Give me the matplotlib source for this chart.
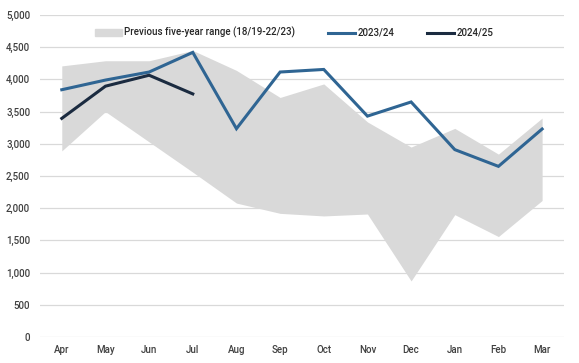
import numpy as np
import matplotlib
matplotlib.use('Agg')
import matplotlib.pyplot as plt
from matplotlib.patches import Patch
from matplotlib.lines import Line2D

plt.rcParams['font.family'] = ['Roboto', 'DejaVu Sans']

months = ['Apr', 'May', 'Jun', 'Jul', 'Aug', 'Sep', 'Oct', 'Nov', 'Dec', 'Jan', 'Feb', 'Mar']
range_upper = [4210, 4290, 4290, 4450, 4140, 3720, 3930, 3340, 2950, 3240, 2840, 3400]
range_lower = [2890, 3500, 3030, 2560, 2080, 1920, 1880, 1910, 870, 1900, 1560, 2120]
y2023 = [3840, 3990, 4115, 4420, 3235, 4115, 4155, 3430, 3650, 2910, 2650, 3230]
y2024 = [3395, 3895, 4065, 3775]

c_fill = '#d9d9d9'
c_2023 = '#2f6593'
c_2024 = '#1b2b40'
c_text = '#404040'

fig = plt.figure(figsize=(5.79, 3.63), dpi=100)
ax = fig.add_axes([0.069, 0.0716, 0.905, 0.887])

x = np.arange(len(months))
ax.fill_between(x, range_lower, range_upper, color=c_fill, linewidth=0, zorder=2)
ax.plot(x, y2023, color=c_2023, lw=2.2, zorder=3, solid_joinstyle='miter')
ax.plot(x[:len(y2024)], y2024, color=c_2024, lw=2.2, zorder=4, solid_joinstyle='miter')

ax.set_xlim(-0.5, len(months) - 0.5)
ax.set_ylim(0, 5000)
ax.set_yticks(np.arange(0, 5001, 500))
ax.set_yticklabels([f'{v:,}' for v in range(0, 5001, 500)])
ax.set_xticks(x)
ax.set_xticklabels(months)
ax.grid(axis='y', color='#d9d9d9', lw=0.9, zorder=1)
ax.set_axisbelow(True)
for s in ax.spines.values():
    s.set_visible(False)
ax.tick_params(axis='x', length=0, labelsize=7, labelcolor=c_text, pad=6)
ax.tick_params(axis='y', length=0, labelsize=7, labelcolor=c_text, pad=7)
for lab in ax.get_xticklabels() + ax.get_yticklabels():
    lab.set_fontweight('medium')

handles = [Patch(color=c_fill, label='Previous five-year range (18/19-22/23)'),
           Line2D([], [], color=c_2023, lw=2.2, label='2023/24'),
           Line2D([], [], color=c_2024, lw=2.2, label='2024/25')]
leg = ax.legend(handles=handles, ncol=3, frameon=False, loc='center',
                bbox_to_anchor=(0.485, 0.945), fontsize=7, columnspacing=3.4,
                handlelength=2.8, handletextpad=0.2, handleheight=0.6)
for t in leg.get_texts():
    t.set_color('#262626')
    t.set_fontweight('medium')

fig.savefig('out.png', dpi=100)
